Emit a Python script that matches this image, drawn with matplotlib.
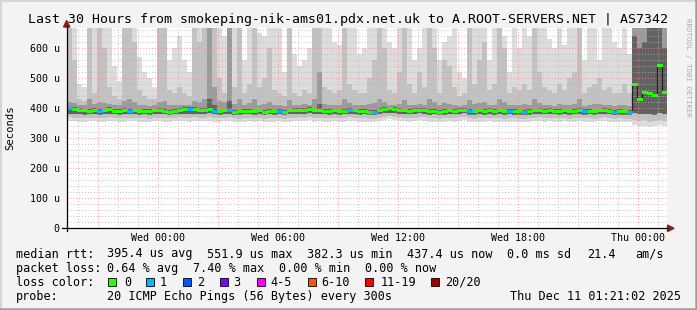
import numpy as np
import matplotlib.pyplot as plt
from matplotlib.patches import Polygon, Rectangle
from matplotlib.lines import Line2D

plt.rcParams['font.family'] = 'DejaVu Sans Mono'

W, H = 697, 310

# ====== Data (hours relative to Wed 00:00, one sample per 15 min) ======
start_hour = -4.58
step_hours = 0.25

rtt_median = [402, 398, 396, 393, 392, 394, 390, 393, 397, 392, 391, 394, 392, 393, 390,
              392, 391, 393, 394, 392, 389, 391, 396, 398, 397, 398, 396, 394, 399, 392,
              390, 393, 395, 389, 390, 391, 392, 390, 393, 388, 391, 390, 392, 389, 393,
              394, 396, 395, 397, 393, 395, 392, 391, 393, 390, 391, 394, 393, 391, 392,
              389, 388, 394, 398, 400, 397, 395, 393, 392, 394, 396, 395, 391, 392, 389,
              391, 393, 392, 395, 396, 391, 390, 393, 392, 394, 391, 393, 390, 392, 391,
              390, 388, 391, 393, 395, 392, 394, 392, 391, 393, 390, 392, 394, 391, 392,
              390, 393, 395, 392, 389, 391, 390, 389, 480, 430, 455, 450, 445, 545, 455]

loss = [1, 0, 0, 0, 0, 0, 1, 0, 0, 0, 0, 0, 1, 0, 0, 0, 0, 0, 0, 0, 0, 0, 0, 0, 1, 0, 0, 0, 0, 1,
        0, 0, 1, 0, 0, 0, 0, 0, 0, 0, 0, 0, 1, 0, 0, 0, 0, 0, 0, 0, 0, 0, 0, 0, 0, 0, 1, 0, 0, 0,
        0, 1, 0, 0, 0, 0, 0, 0, 0, 0, 0, 0, 0, 0, 0, 0, 0, 0, 0, 0, 1, 0, 0, 0, 0, 0, 0, 0, 1, 0,
        0, 1, 0, 0, 0, 0, 0, 0, 0, 0, 0, 0, 0, 1, 0, 0, 0, 0, 0, 1, 0, 0, 1, 0, 0, 0, 0, 0, 0, 0]

rtt_min = [358, 357, 356, 355, 357, 358, 355, 356, 359, 357, 355, 356, 358, 357, 355,
           356, 354, 357, 358, 356, 355, 357, 359, 358, 356, 359, 358, 357, 358, 356,
           355, 357, 359, 355, 354, 356, 358, 355, 357, 354, 356, 355, 358, 354, 356,
           358, 359, 357, 360, 356, 358, 356, 355, 358, 355, 356, 359, 357, 355, 356,
           354, 353, 358, 361, 363, 360, 358, 357, 356, 358, 360, 358, 355, 356, 354,
           355, 358, 356, 359, 360, 355, 354, 356, 355, 358, 355, 356, 354, 356, 355,
           354, 353, 355, 357, 358, 356, 357, 356, 355, 357, 354, 356, 357, 355, 356,
           354, 357, 358, 356, 354, 355, 354, 353, 345, 340, 342, 338, 341, 344, 340]

rtt_p10 = [370, 369, 368, 367, 368, 369, 367, 368, 370, 368, 367, 368, 369, 368, 367,
           368, 366, 368, 369, 368, 367, 368, 370, 369, 368, 370, 369, 368, 370, 368,
           367, 368, 370, 367, 366, 368, 369, 367, 368, 366, 368, 367, 369, 366, 368,
           369, 370, 369, 371, 368, 369, 368, 367, 369, 367, 368, 370, 369, 367, 368,
           366, 365, 369, 372, 374, 372, 370, 369, 368, 369, 371, 370, 367, 368, 366,
           367, 369, 368, 370, 371, 367, 366, 368, 367, 369, 367, 368, 366, 368, 367,
           366, 365, 367, 369, 370, 368, 369, 368, 367, 369, 366, 368, 369, 367, 368,
           366, 369, 370, 368, 366, 367, 366, 365, 362, 358, 360, 356, 358, 360, 357]

rtt_p25 = [382, 381, 380, 379, 380, 381, 379, 380, 382, 380, 379, 380, 381, 380, 379,
           380, 378, 380, 381, 380, 379, 380, 382, 381, 380, 382, 381, 380, 383, 380,
           379, 380, 382, 379, 378, 380, 381, 379, 380, 378, 380, 379, 381, 378, 380,
           381, 382, 381, 383, 380, 381, 380, 379, 381, 379, 380, 382, 381, 379, 380,
           378, 377, 381, 384, 386, 384, 382, 381, 380, 381, 383, 382, 379, 380, 378,
           379, 381, 380, 382, 383, 379, 378, 380, 379, 381, 379, 380, 378, 380, 379,
           378, 377, 379, 381, 382, 380, 381, 380, 379, 381, 378, 380, 381, 379, 380,
           378, 381, 382, 380, 378, 379, 378, 377, 385, 380, 382, 380, 378, 384, 380]

rtt_p60 = [406, 404, 402, 399, 398, 400, 397, 399, 403, 398, 397, 400, 398, 399, 396,
           398, 397, 399, 400, 398, 395, 397, 402, 404, 403, 404, 402, 400, 430, 410,
           396, 399, 425, 395, 396, 397, 398, 396, 399, 394, 397, 396, 398, 395, 399,
           400, 402, 401, 403, 399, 415, 398, 397, 399, 396, 397, 400, 399, 397, 398,
           395, 394, 400, 404, 406, 403, 401, 399, 398, 400, 402, 401, 397, 398, 395,
           397, 399, 398, 401, 402, 397, 396, 399, 398, 400, 397, 399, 396, 398, 397,
           396, 394, 397, 399, 401, 398, 400, 398, 397, 399, 396, 398, 400, 397, 398,
           396, 399, 401, 398, 395, 397, 396, 395, 640, 600, 620, 668, 668, 668, 600]

rtt_p75 = [420, 418, 412, 410, 430, 415, 420, 418, 415, 412, 410, 425, 430, 420, 412,
           410, 408, 410, 420, 425, 412, 410, 412, 410, 410, 425, 420, 430, 668, 470,
           425, 420, 668, 415, 430, 412, 418, 430, 412, 415, 420, 412, 410, 408, 428,
           412, 410, 415, 412, 430, 520, 415, 412, 410, 412, 430, 418, 412, 410, 410,
           415, 418, 430, 420, 412, 410, 415, 428, 412, 410, 415, 412, 430, 420, 410,
           418, 415, 412, 408, 410, 428, 415, 418, 422, 410, 412, 430, 420, 410, 412,
           410, 415, 412, 430, 418, 412, 410, 408, 415, 410, 412, 415, 430, 408, 412,
           414, 415, 410, 412, 408, 410, 412, 408, 668, 668, 668, 668, 668, 668, 668]

rtt_p90 = [668, 560, 430, 425, 668, 450, 668, 600, 470, 440, 430, 668, 668, 620, 460,
           440, 430, 430, 668, 668, 460, 450, 470, 450, 440, 668, 620, 668, 668, 668,
           500, 450, 668, 470, 668, 450, 480, 668, 470, 500, 600, 460, 450, 440, 668,
           450, 440, 460, 450, 668, 668, 470, 460, 450, 460, 668, 480, 460, 450, 450,
           500, 560, 668, 600, 460, 450, 520, 668, 480, 450, 520, 470, 668, 600, 450,
           560, 540, 470, 440, 450, 668, 480, 560, 620, 460, 480, 668, 600, 450, 470,
           460, 480, 460, 668, 520, 470, 460, 450, 480, 460, 500, 520, 668, 450, 470,
           480, 500, 460, 470, 450, 450, 480, 450, 668, 668, 668, 668, 668, 668, 668]

rtt_max = [668, 668, 480, 470, 668, 668, 668, 668, 668, 540, 490, 668, 668, 668, 570,
           520, 500, 470, 668, 668, 560, 600, 640, 560, 520, 668, 668, 668, 668, 668,
           668, 640, 668, 668, 668, 560, 668, 668, 650, 640, 668, 668, 668, 520, 668,
           580, 540, 560, 600, 668, 668, 668, 668, 620, 610, 668, 668, 668, 580, 600,
           668, 668, 668, 668, 620, 600, 668, 668, 668, 560, 600, 668, 668, 668, 560,
           620, 640, 668, 520, 500, 668, 668, 668, 668, 560, 668, 668, 640, 520, 668,
           600, 668, 640, 668, 668, 668, 630, 600, 668, 610, 668, 668, 668, 560, 668,
           668, 560, 668, 668, 620, 600, 668, 580, 668, 668, 668, 668, 668, 668, 668]

major_hours = [-3, 0, 3, 6, 9, 12, 15, 18, 21, 24]
major_labels = ['', 'Wed 00:00', '', 'Wed 06:00', '', 'Wed 12:00', '', 'Wed 18:00', '', 'Thu 00:00']
y_ticks = [0, 100, 200, 300, 400, 500, 600]
y_labels = ['0', '100 u', '200 u', '300 u', '400 u', '500 u', '600 u']

loss_names = ['0', '1', '2', '3', '4-5', '6-10', '11-19', '20/20']
loss_colors = ['#26ff00', '#00b8ff', '#0059ff', '#7e00ff', '#ff00ff', '#ff5500', '#ff0000', '#a10000']


def px(x, y):
    # pixel position -> figure fraction
    return (x / W, 1 - y / H)


def ext(v):
    v = np.asarray(v, float)
    return np.append(v, v[-1])


n = len(rtt_median)
t = start_hour + step_hours * np.arange(n + 1)

fig = plt.figure(figsize=(W / 100, H / 100), dpi=100, facecolor='#f3f3f3')
ax = fig.add_axes([66.7 / W, 1 - 228.3 / H, 600 / W, 200.3 / H])
ax.set_facecolor('white')
ax.set_xlim(t[0], t[-1])
ax.set_ylim(0, 667.7)

# ===== smoke =====
ax.fill_between(t, ext(rtt_min), ext(rtt_max), step='post', color='#dcdcdc', lw=0, zorder=1)
ax.fill_between(t, ext(rtt_p10), ext(rtt_p90), step='post', color='#c2c2c2', lw=0, zorder=1.1)
ax.fill_between(t, ext(rtt_p25), ext(rtt_p75), step='post', color='#9a9a9a', lw=0, zorder=1.2)
ax.fill_between(t, ext(rtt_p25), ext(rtt_p60), step='post', color='#626262', lw=0, zorder=1.3)

# ===== median line coloured by loss =====
med = ext(rtt_median)
ax.step(t, med, where='post', color='#202020', lw=0.9, zorder=3)
la = np.array(loss)
for k, c in enumerate(loss_colors):
    sel = la == k
    if sel.any():
        ax.hlines(np.array(rtt_median)[sel], t[:-1][sel], t[1:][sel],
                  color=c, lw=2.16, zorder=5 + 0.1 * k, antialiased=False)

# ===== grid / ticks =====
ax.set_xticks(major_hours)
ax.set_xticklabels(major_labels)
ax.set_xticks(np.arange(-4, 26), minor=True)
ax.set_yticks(y_ticks)
ax.set_yticklabels(y_labels)
ax.set_yticks(np.arange(0, 661, 20), minor=True)
ax.set_axisbelow(False)
ax.grid(which='major', color='#ff8080', ls=(0, (1, 2)), lw=0.7, alpha=0.8)
ax.grid(which='minor', color='#b4b4b4', ls=(0, (1, 2)), lw=0.7, alpha=0.8)
ax.tick_params(which='both', length=0)
ax.tick_params(axis='x', labelsize=7.2, pad=3.5)
ax.tick_params(axis='y', labelsize=7.2, pad=5)
for s in ax.spines.values():
    s.set_visible(False)

# axes with arrows
fig.add_artist(Line2D(*zip(px(66.7, 231), px(66.7, 26)), color='black', lw=0.9))
fig.add_artist(Line2D(*zip(px(62, 228.3), px(668, 228.3)), color='black', lw=0.9))
fig.add_artist(Polygon([px(66.7, 20.5), px(63.5, 27), px(69.9, 27)], closed=True,
                       color='#8b1c1c', transform=fig.transFigure))
fig.add_artist(Polygon([px(674, 228.3), px(667.5, 225.1), px(667.5, 231.5)], closed=True,
                       color='#8b1c1c', transform=fig.transFigure))

# ===== texts =====
fig.text(*px(347.5, 19.3),
         'Last 30 Hours from smokeping-nik-ams01.pdx.net.uk to A.ROOT-SERVERS.NET | AS7342',
         fontsize=9.5, ha='center', va='center')
fig.text(*px(10, 128), 'Seconds', rotation=90, fontsize=7.6, ha='center', va='center')
fig.text(*px(688, 68), 'RRDTOOL / TOBI OETIKER', rotation=270, fontsize=5.3,
         color='#ababab', ha='center', va='center')

fs = 8.5
y1, y2, y3, y4 = 254, 268.3, 282, 296.3
row1 = [(16, 'median rtt:'), (107.3, '395.4 us avg'), (207.3, '551.9 us max'),
        (306.7, '382.3 us min'), (406.7, '437.4 us now'), (506.7, '0.0 ms sd'),
        (586.7, '21.4'), (635.7, 'am/s')]
row2 = [(16, 'packet loss:'), (107.3, '0.64 % avg'), (193.3, '7.40 % max'),
        (278.7, '0.00 % min'), (365, '0.00 % now')]
for x, s in row1:
    fig.text(*px(x, y1), s, fontsize=fs, va='center')
for x, s in row2:
    fig.text(*px(x, y2), s, fontsize=fs, va='center')

fig.text(*px(16, y3), 'loss color:', fontsize=fs, va='center')
box_x = [108.3, 145.7, 182.7, 220, 257.3, 308.3, 365, 430.7]
lab_x = [124, 160, 197, 233, 270, 321, 380.5, 445.5]
for bx, lx, name, c in zip(box_x, lab_x, loss_names, loss_colors):
    fig.add_artist(Rectangle(px(bx, y3 + 4), 8 / W, 8 / H, facecolor=c, edgecolor='black',
                             lw=0.6, transform=fig.transFigure))
    fig.text(*px(lx, y3), name, fontsize=fs, va='center')

fig.text(*px(16, y4), 'probe:', fontsize=fs, va='center')
fig.text(*px(107.3, y4), '20 ICMP Echo Pings (56 Bytes) every 300s', fontsize=fs, va='center')
fig.text(*px(681, y4), 'Thu Dec 11 01:21:02 2025', fontsize=fs, va='center', ha='right')

# bevel frame
fig.add_artist(Line2D(*zip(px(0, 0.8), px(697, 0.8)), color='#d6d6d6', lw=1.5))
fig.add_artist(Line2D(*zip(px(0.8, 0), px(0.8, 310)), color='#d6d6d6', lw=1.5))
fig.add_artist(Line2D(*zip(px(0, 308.8), px(697, 308.8)), color='#9e9e9e', lw=1.8))
fig.add_artist(Line2D(*zip(px(695.8, 0), px(695.8, 310)), color='#9e9e9e', lw=1.8))

fig.savefig('out.png', dpi=100, facecolor=fig.get_facecolor())
